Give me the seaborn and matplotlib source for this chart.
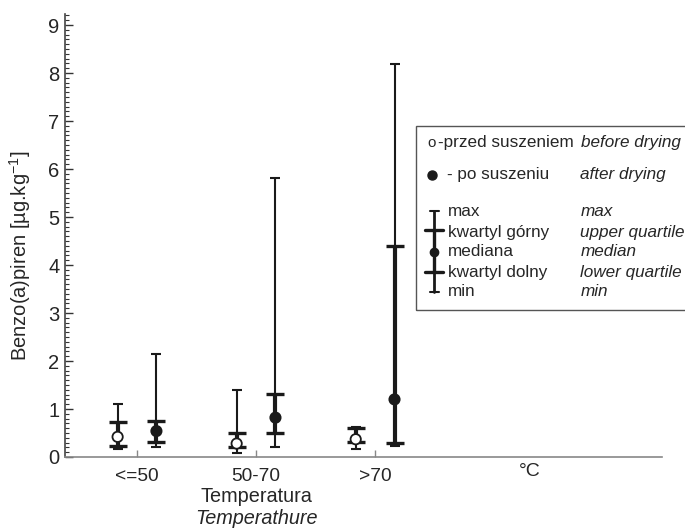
import numpy as np
import pandas as pd
import seaborn as sns
import matplotlib.pyplot as plt
from matplotlib.patches import Rectangle
from matplotlib.ticker import MultipleLocator

# Benzo(a)piren - przed / po suszeniu, wg temperatury
temps = ["<=50", "50-70", ">70"]
before_min = [0.16, 0.08, 0.17]
before_q1 = [0.23, 0.21, 0.32]
before_med = [0.42, 0.28, 0.37]
before_q3 = [0.72, 0.51, 0.61]
before_max = [1.11, 1.40, 0.63]
after_min = [0.21, 0.21, 0.23]
after_q1 = [0.32, 0.49, 0.30]
after_med = [0.54, 0.82, 1.20]
after_q3 = [0.74, 1.31, 4.40]
after_max = [2.15, 5.81, 8.19]

rows = []
for i, t in enumerate(temps):
    rows.append(dict(temp=t, stan="przed", mn=before_min[i], q1=before_q1[i], med=before_med[i],
                     q3=before_q3[i], mx=before_max[i]))
    rows.append(dict(temp=t, stan="po", mn=after_min[i], q1=after_q1[i], med=after_med[i],
                     q3=after_q3[i], mx=after_max[i]))
df = pd.DataFrame(rows)
df["x"] = df["temp"].map({t: i + 1 for i, t in enumerate(temps)}) + df["stan"].map({"przed": -0.163, "po": 0.163})

sns.set_style("ticks")
plt.rcParams["font.family"] = ["Liberation Sans", "DejaVu Sans"]
plt.rcParams["mathtext.fontset"] = "custom"
plt.rcParams["mathtext.rm"] = "Liberation Sans"

fig = plt.figure(figsize=(6.85, 5.29), dpi=100)
ax = fig.add_axes([65 / 685, 1 - 457 / 529, (662 - 65) / 685, (457 - 14) / 529])

col = "#1a1a1a"
# whiskers min-max
ax.vlines(df["x"], df["mn"], df["mx"], color=col, lw=1.5, zorder=2)
# interquartile
ax.vlines(df["x"], df["q1"], df["q3"], color=col, lw=3.0, zorder=2)
# caps
ax.scatter(df["x"], df["mx"], marker="_", s=45, color=col, linewidths=1.5, zorder=3)
ax.scatter(df["x"], df["mn"], marker="_", s=45, color=col, linewidths=1.5, zorder=3)
ax.scatter(df["x"], df["q3"], marker="_", s=170, color=col, linewidths=2.4, zorder=3)
ax.scatter(df["x"], df["q1"], marker="_", s=170, color=col, linewidths=2.4, zorder=3)
# medians
sns.scatterplot(data=df, x="x", y="med", hue="stan", palette={"przed": "white", "po": col},
                edgecolor=col, linewidth=1.3, s=55, legend=False, ax=ax, zorder=4)

ax.set_xlim(0.395, 5.41)
ax.set_ylim(0, 9.23)
ax.set_xticks([1, 2, 3])
ax.set_xticklabels(temps, fontsize=13.8)
ax.yaxis.set_major_locator(MultipleLocator(1))
ax.yaxis.set_minor_locator(MultipleLocator(0.1))
ax.tick_params(axis="y", which="major", direction="in", length=6, width=1, labelsize=14.5, pad=4, color="#333333")
ax.tick_params(axis="y", which="minor", direction="in", length=3, width=0.8, color="#333333")
ax.tick_params(axis="x", direction="in", length=5, width=1, color="#888888", pad=8)
ax.set_xlabel("")
ax.set_ylabel("Benzo(a)piren [µg.kg$^{\\mathregular{-1}}$]", fontsize=14.5)
ax.yaxis.set_label_coords(-0.053, 0.455)
sns.despine(ax=ax)
ax.spines["left"].set_color("#444444")
ax.spines["bottom"].set_color("#888888")
ax.spines["left"].set_linewidth(1.2)
ax.spines["bottom"].set_linewidth(1.2)

fig.text(530 / 685, 1 - 471 / 529, "°C", fontsize=14, ha="center", va="center")
fig.text(256 / 685, 1 - 497 / 529, "Temperatura", fontsize=14.3, ha="center", va="center")
fig.text(256 / 685, 1 - 518 / 529, "Temperathure", fontsize=14.3, ha="center", va="center", style="italic")

# legenda
def fx(px):
    return px / 685

def fy(py):
    return 1 - py / 529

fig.patches.append(Rectangle((fx(416), fy(310)), fx(700) - fx(416), fy(126) - fy(310),
                             transform=fig.transFigure, fill=False, edgecolor="#555555", lw=1.0))
lfs = 12.3
fig.text(fx(432), fy(143), "o", fontsize=lfs - 1.5, ha="center", va="center")
fig.text(fx(438), fy(142), "-przed suszeniem", fontsize=lfs, va="center")
fig.text(fx(581), fy(142), "before drying", fontsize=lfs, va="center", style="italic")
fig.lines.append(plt.Line2D([fx(432)], [fy(175)], marker="o", ms=6.5, color=col, transform=fig.transFigure))
fig.text(fx(447), fy(174), "- po suszeniu", fontsize=lfs, va="center")
fig.text(fx(580.5), fy(174), "after drying", fontsize=lfs, va="center", style="italic")
leg_pl = ["max", "kwartyl górny", "mediana", "kwartyl dolny", "min"]
leg_en = ["max", "upper quartile", "median", "lower quartile", "min"]
leg_y = [212, 232, 252, 272, 292]
for p, e, y in zip(leg_pl, leg_en, leg_y):
    fig.text(fx(448), fy(y), p, fontsize=lfs, va="center")
    fig.text(fx(580.5), fy(y), e, fontsize=lfs, va="center", style="italic")
gx = fx(434)
fig.lines.append(plt.Line2D([gx, gx], [fy(211), fy(292)], lw=2.0, color=col, transform=fig.transFigure))
fig.lines.append(plt.Line2D([gx, gx], [fy(230), fy(272)], lw=2.4, color=col, transform=fig.transFigure))
for y, w, lw in [(211, 4.5, 1.5), (292, 4.5, 1.5), (230, 9, 2.4), (272, 9, 2.4)]:
    fig.lines.append(plt.Line2D([fx(434 - w), fx(434 + w)], [fy(y), fy(y)], lw=lw, color=col,
                                transform=fig.transFigure))
fig.lines.append(plt.Line2D([gx], [fy(252)], marker="o", ms=6, color=col, transform=fig.transFigure))

fig.savefig("out.png", dpi=100)
